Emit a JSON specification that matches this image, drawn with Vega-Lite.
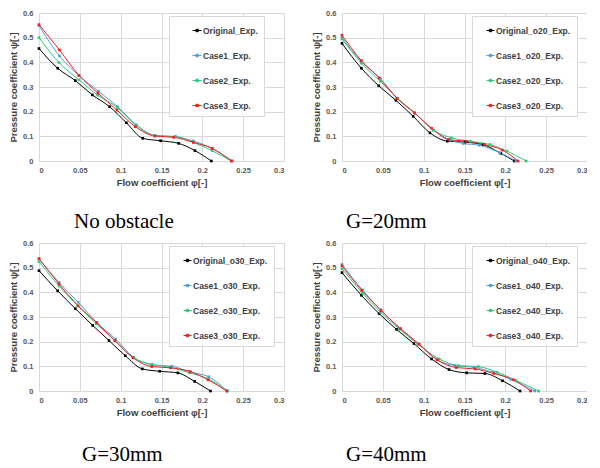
{
  "$schema": "https://vega.github.io/schema/vega-lite/v6.json",
  "padding": {"left": 8, "top": 9, "right": 0, "bottom": 0},
  "background": "white",
  "config": {
    "view": {"stroke": null},
    "axis": {
      "grid": true, "gridColor": "#d9d9d9", "gridWidth": 1, "domain": false, "ticks": false,
      "labelFont": "Liberation Sans", "labelFontWeight": "bold", "labelFontSize": 7.5, "labelColor": "#595959",
      "titleFont": "Liberation Sans", "titleFontWeight": "bold", "titleFontSize": 9.5, "titleColor": "#404040"
    },
    "axisX": {"labelPadding": 5, "titlePadding": 4},
    "axisY": {"labelPadding": 6, "titlePadding": 4},
    "legend": {
      "orient": "none", "legendX": 130, "legendY": 3, "title": null,
      "fillColor": "white", "strokeColor": "#d9d9d9", "padding": 6,
      "symbolSize": 256, "symbolStrokeWidth": 1, "rowPadding": 12,
      "labelFont": "Liberation Sans", "labelFontWeight": "bold", "labelFontSize": 8.5, "labelColor": "#404040"
    },
    "title": {"font": "Liberation Serif", "fontSize": 21, "fontWeight": "normal", "color": "black", "orient": "bottom", "anchor": "start", "frame": "group", "offset": 24}
  },
  "data": {"values": [
    {"panel":"p1","series":"Original_Exp.","phi":0,"psi":0.456},
    {"panel":"p1","series":"Original_Exp.","phi":0.0229,"psi":0.376},
    {"panel":"p1","series":"Original_Exp.","phi":0.0445,"psi":0.326},
    {"panel":"p1","series":"Original_Exp.","phi":0.0653,"psi":0.268},
    {"panel":"p1","series":"Original_Exp.","phi":0.0865,"psi":0.22},
    {"panel":"p1","series":"Original_Exp.","phi":0.107,"psi":0.155},
    {"panel":"p1","series":"Original_Exp.","phi":0.127,"psi":0.092},
    {"panel":"p1","series":"Original_Exp.","phi":0.149,"psi":0.082},
    {"panel":"p1","series":"Original_Exp.","phi":0.171,"psi":0.0715},
    {"panel":"p1","series":"Original_Exp.","phi":0.191,"psi":0.042},
    {"panel":"p1","series":"Original_Exp.","phi":0.211,"psi":0},
    {"panel":"p1","series":"Case1_Exp.","phi":0,"psi":0.549},
    {"panel":"p1","series":"Case1_Exp.","phi":0.025,"psi":0.426},
    {"panel":"p1","series":"Case1_Exp.","phi":0.049,"psi":0.346},
    {"panel":"p1","series":"Case1_Exp.","phi":0.0727,"psi":0.283},
    {"panel":"p1","series":"Case1_Exp.","phi":0.0963,"psi":0.22},
    {"panel":"p1","series":"Case1_Exp.","phi":0.119,"psi":0.147},
    {"panel":"p1","series":"Case1_Exp.","phi":0.142,"psi":0.104},
    {"panel":"p1","series":"Case1_Exp.","phi":0.167,"psi":0.098},
    {"panel":"p1","series":"Case1_Exp.","phi":0.189,"psi":0.081},
    {"panel":"p1","series":"Case1_Exp.","phi":0.212,"psi":0.051},
    {"panel":"p1","series":"Case1_Exp.","phi":0.237,"psi":0},
    {"panel":"p1","series":"Case2_Exp.","phi":0,"psi":0.5},
    {"panel":"p1","series":"Case2_Exp.","phi":0.0245,"psi":0.399},
    {"panel":"p1","series":"Case2_Exp.","phi":0.049,"psi":0.329},
    {"panel":"p1","series":"Case2_Exp.","phi":0.0718,"psi":0.267},
    {"panel":"p1","series":"Case2_Exp.","phi":0.0959,"psi":0.217},
    {"panel":"p1","series":"Case2_Exp.","phi":0.119,"psi":0.144},
    {"panel":"p1","series":"Case2_Exp.","phi":0.142,"psi":0.102},
    {"panel":"p1","series":"Case2_Exp.","phi":0.167,"psi":0.1},
    {"panel":"p1","series":"Case2_Exp.","phi":0.189,"psi":0.0755},
    {"panel":"p1","series":"Case2_Exp.","phi":0.212,"psi":0.042},
    {"panel":"p1","series":"Case2_Exp.","phi":0.2355,"psi":0},
    {"panel":"p1","series":"Case3_Exp.","phi":0,"psi":0.553},
    {"panel":"p1","series":"Case3_Exp.","phi":0.025,"psi":0.45},
    {"panel":"p1","series":"Case3_Exp.","phi":0.049,"psi":0.347},
    {"panel":"p1","series":"Case3_Exp.","phi":0.0722,"psi":0.275},
    {"panel":"p1","series":"Case3_Exp.","phi":0.0955,"psi":0.206},
    {"panel":"p1","series":"Case3_Exp.","phi":0.118,"psi":0.139},
    {"panel":"p1","series":"Case3_Exp.","phi":0.142,"psi":0.101},
    {"panel":"p1","series":"Case3_Exp.","phi":0.165,"psi":0.096},
    {"panel":"p1","series":"Case3_Exp.","phi":0.189,"psi":0.0755},
    {"panel":"p1","series":"Case3_Exp.","phi":0.212,"psi":0.051},
    {"panel":"p1","series":"Case3_Exp.","phi":0.2355,"psi":0},

    {"panel":"p2","series":"Original_o20_Exp.","phi":0,"psi":0.477},
    {"panel":"p2","series":"Original_o20_Exp.","phi":0.0237,"psi":0.376},
    {"panel":"p2","series":"Original_o20_Exp.","phi":0.045,"psi":0.305},
    {"panel":"p2","series":"Original_o20_Exp.","phi":0.066,"psi":0.246},
    {"panel":"p2","series":"Original_o20_Exp.","phi":0.0872,"psi":0.181},
    {"panel":"p2","series":"Original_o20_Exp.","phi":0.1077,"psi":0.114},
    {"panel":"p2","series":"Original_o20_Exp.","phi":0.129,"psi":0.0805},
    {"panel":"p2","series":"Original_o20_Exp.","phi":0.1506,"psi":0.0765},
    {"panel":"p2","series":"Original_o20_Exp.","phi":0.173,"psi":0.066},
    {"panel":"p2","series":"Original_o20_Exp.","phi":0.1944,"psi":0.031},
    {"panel":"p2","series":"Original_o20_Exp.","phi":0.211,"psi":0},
    {"panel":"p2","series":"Case1_o20_Exp.","phi":0,"psi":0.5},
    {"panel":"p2","series":"Case1_o20_Exp.","phi":0.0237,"psi":0.403},
    {"panel":"p2","series":"Case1_o20_Exp.","phi":0.047,"psi":0.334},
    {"panel":"p2","series":"Case1_o20_Exp.","phi":0.067,"psi":0.255},
    {"panel":"p2","series":"Case1_o20_Exp.","phi":0.089,"psi":0.195},
    {"panel":"p2","series":"Case1_o20_Exp.","phi":0.112,"psi":0.125},
    {"panel":"p2","series":"Case1_o20_Exp.","phi":0.133,"psi":0.085},
    {"panel":"p2","series":"Case1_o20_Exp.","phi":0.1486,"psi":0.071},
    {"panel":"p2","series":"Case1_o20_Exp.","phi":0.168,"psi":0.064},
    {"panel":"p2","series":"Case1_o20_Exp.","phi":0.193,"psi":0.034},
    {"panel":"p2","series":"Case1_o20_Exp.","phi":0.213,"psi":0},
    {"panel":"p2","series":"Case2_o20_Exp.","phi":0,"psi":0.495},
    {"panel":"p2","series":"Case2_o20_Exp.","phi":0.0237,"psi":0.397},
    {"panel":"p2","series":"Case2_o20_Exp.","phi":0.047,"psi":0.323},
    {"panel":"p2","series":"Case2_o20_Exp.","phi":0.068,"psi":0.254},
    {"panel":"p2","series":"Case2_o20_Exp.","phi":0.089,"psi":0.195},
    {"panel":"p2","series":"Case2_o20_Exp.","phi":0.112,"psi":0.125},
    {"panel":"p2","series":"Case2_o20_Exp.","phi":0.134,"psi":0.094},
    {"panel":"p2","series":"Case2_o20_Exp.","phi":0.157,"psi":0.08},
    {"panel":"p2","series":"Case2_o20_Exp.","phi":0.181,"psi":0.067},
    {"panel":"p2","series":"Case2_o20_Exp.","phi":0.202,"psi":0.04},
    {"panel":"p2","series":"Case2_o20_Exp.","phi":0.2255,"psi":0},
    {"panel":"p2","series":"Case3_o20_Exp.","phi":0,"psi":0.51},
    {"panel":"p2","series":"Case3_o20_Exp.","phi":0.0237,"psi":0.407},
    {"panel":"p2","series":"Case3_o20_Exp.","phi":0.0454,"psi":0.337},
    {"panel":"p2","series":"Case3_o20_Exp.","phi":0.0675,"psi":0.254},
    {"panel":"p2","series":"Case3_o20_Exp.","phi":0.0888,"psi":0.195},
    {"panel":"p2","series":"Case3_o20_Exp.","phi":0.1097,"psi":0.133},
    {"panel":"p2","series":"Case3_o20_Exp.","phi":0.1306,"psi":0.087},
    {"panel":"p2","series":"Case3_o20_Exp.","phi":0.1527,"psi":0.08},
    {"panel":"p2","series":"Case3_o20_Exp.","phi":0.174,"psi":0.067},
    {"panel":"p2","series":"Case3_o20_Exp.","phi":0.1965,"psi":0.044},
    {"panel":"p2","series":"Case3_o20_Exp.","phi":0.2155,"psi":0},

    {"panel":"p3","series":"Original_o30_Exp.","phi":0,"psi":0.488},
    {"panel":"p3","series":"Original_o30_Exp.","phi":0.0229,"psi":0.406},
    {"panel":"p3","series":"Original_o30_Exp.","phi":0.0445,"psi":0.334},
    {"panel":"p3","series":"Original_o30_Exp.","phi":0.0657,"psi":0.266},
    {"panel":"p3","series":"Original_o30_Exp.","phi":0.0857,"psi":0.2045},
    {"panel":"p3","series":"Original_o30_Exp.","phi":0.1057,"psi":0.143},
    {"panel":"p3","series":"Original_o30_Exp.","phi":0.1265,"psi":0.0896},
    {"panel":"p3","series":"Original_o30_Exp.","phi":0.1478,"psi":0.08},
    {"panel":"p3","series":"Original_o30_Exp.","phi":0.17,"psi":0.0735},
    {"panel":"p3","series":"Original_o30_Exp.","phi":0.1906,"psi":0.0388},
    {"panel":"p3","series":"Original_o30_Exp.","phi":0.21,"psi":0},
    {"panel":"p3","series":"Case1_o30_Exp.","phi":0,"psi":0.535},
    {"panel":"p3","series":"Case1_o30_Exp.","phi":0.0245,"psi":0.44},
    {"panel":"p3","series":"Case1_o30_Exp.","phi":0.048,"psi":0.36},
    {"panel":"p3","series":"Case1_o30_Exp.","phi":0.071,"psi":0.277},
    {"panel":"p3","series":"Case1_o30_Exp.","phi":0.094,"psi":0.21},
    {"panel":"p3","series":"Case1_o30_Exp.","phi":0.116,"psi":0.136},
    {"panel":"p3","series":"Case1_o30_Exp.","phi":0.139,"psi":0.106},
    {"panel":"p3","series":"Case1_o30_Exp.","phi":0.163,"psi":0.1},
    {"panel":"p3","series":"Case1_o30_Exp.","phi":0.186,"psi":0.076},
    {"panel":"p3","series":"Case1_o30_Exp.","phi":0.208,"psi":0.0575},
    {"panel":"p3","series":"Case1_o30_Exp.","phi":0.2306,"psi":0},
    {"panel":"p3","series":"Case2_o30_Exp.","phi":0,"psi":0.524},
    {"panel":"p3","series":"Case2_o30_Exp.","phi":0.0245,"psi":0.426},
    {"panel":"p3","series":"Case2_o30_Exp.","phi":0.0473,"psi":0.346},
    {"panel":"p3","series":"Case2_o30_Exp.","phi":0.0702,"psi":0.273},
    {"panel":"p3","series":"Case2_o30_Exp.","phi":0.093,"psi":0.203},
    {"panel":"p3","series":"Case2_o30_Exp.","phi":0.116,"psi":0.134},
    {"panel":"p3","series":"Case2_o30_Exp.","phi":0.138,"psi":0.108},
    {"panel":"p3","series":"Case2_o30_Exp.","phi":0.161,"psi":0.096},
    {"panel":"p3","series":"Case2_o30_Exp.","phi":0.1845,"psi":0.0735},
    {"panel":"p3","series":"Case2_o30_Exp.","phi":0.207,"psi":0.0495},
    {"panel":"p3","series":"Case2_o30_Exp.","phi":0.2306,"psi":0},
    {"panel":"p3","series":"Case3_o30_Exp.","phi":0,"psi":0.537},
    {"panel":"p3","series":"Case3_o30_Exp.","phi":0.0245,"psi":0.434},
    {"panel":"p3","series":"Case3_o30_Exp.","phi":0.048,"psi":0.345},
    {"panel":"p3","series":"Case3_o30_Exp.","phi":0.0706,"psi":0.277},
    {"panel":"p3","series":"Case3_o30_Exp.","phi":0.093,"psi":0.2045},
    {"panel":"p3","series":"Case3_o30_Exp.","phi":0.115,"psi":0.135},
    {"panel":"p3","series":"Case3_o30_Exp.","phi":0.138,"psi":0.099},
    {"panel":"p3","series":"Case3_o30_Exp.","phi":0.161,"psi":0.094},
    {"panel":"p3","series":"Case3_o30_Exp.","phi":0.185,"psi":0.079},
    {"panel":"p3","series":"Case3_o30_Exp.","phi":0.207,"psi":0.0455},
    {"panel":"p3","series":"Case3_o30_Exp.","phi":0.2298,"psi":0},

    {"panel":"p4","series":"Original_o40_Exp.","phi":0,"psi":0.48},
    {"panel":"p4","series":"Original_o40_Exp.","phi":0.0237,"psi":0.388},
    {"panel":"p4","series":"Original_o40_Exp.","phi":0.0454,"psi":0.314},
    {"panel":"p4","series":"Original_o40_Exp.","phi":0.0667,"psi":0.25},
    {"panel":"p4","series":"Original_o40_Exp.","phi":0.088,"psi":0.1925},
    {"panel":"p4","series":"Original_o40_Exp.","phi":0.1097,"psi":0.13},
    {"panel":"p4","series":"Original_o40_Exp.","phi":0.131,"psi":0.087},
    {"panel":"p4","series":"Original_o40_Exp.","phi":0.1527,"psi":0.0735},
    {"panel":"p4","series":"Original_o40_Exp.","phi":0.175,"psi":0.071},
    {"panel":"p4","series":"Original_o40_Exp.","phi":0.1965,"psi":0.0415},
    {"panel":"p4","series":"Original_o40_Exp.","phi":0.218,"psi":0},
    {"panel":"p4","series":"Case1_o40_Exp.","phi":0,"psi":0.513},
    {"panel":"p4","series":"Case1_o40_Exp.","phi":0.025,"psi":0.41},
    {"panel":"p4","series":"Case1_o40_Exp.","phi":0.047,"psi":0.33},
    {"panel":"p4","series":"Case1_o40_Exp.","phi":0.0708,"psi":0.253},
    {"panel":"p4","series":"Case1_o40_Exp.","phi":0.093,"psi":0.1925},
    {"panel":"p4","series":"Case1_o40_Exp.","phi":0.116,"psi":0.127},
    {"panel":"p4","series":"Case1_o40_Exp.","phi":0.138,"psi":0.103},
    {"panel":"p4","series":"Case1_o40_Exp.","phi":0.161,"psi":0.096},
    {"panel":"p4","series":"Case1_o40_Exp.","phi":0.1846,"psi":0.076},
    {"panel":"p4","series":"Case1_o40_Exp.","phi":0.2067,"psi":0.047},
    {"panel":"p4","series":"Case1_o40_Exp.","phi":0.236,"psi":0},
    {"panel":"p4","series":"Case2_o40_Exp.","phi":0,"psi":0.496},
    {"panel":"p4","series":"Case2_o40_Exp.","phi":0.025,"psi":0.397},
    {"panel":"p4","series":"Case2_o40_Exp.","phi":0.047,"psi":0.32},
    {"panel":"p4","series":"Case2_o40_Exp.","phi":0.0708,"psi":0.25},
    {"panel":"p4","series":"Case2_o40_Exp.","phi":0.093,"psi":0.19},
    {"panel":"p4","series":"Case2_o40_Exp.","phi":0.119,"psi":0.13},
    {"panel":"p4","series":"Case2_o40_Exp.","phi":0.1425,"psi":0.103},
    {"panel":"p4","series":"Case2_o40_Exp.","phi":0.167,"psi":0.099},
    {"panel":"p4","series":"Case2_o40_Exp.","phi":0.19,"psi":0.076},
    {"panel":"p4","series":"Case2_o40_Exp.","phi":0.213,"psi":0.043},
    {"panel":"p4","series":"Case2_o40_Exp.","phi":0.2407,"psi":0},
    {"panel":"p4","series":"Case3_o40_Exp.","phi":0,"psi":0.507},
    {"panel":"p4","series":"Case3_o40_Exp.","phi":0.0241,"psi":0.408},
    {"panel":"p4","series":"Case3_o40_Exp.","phi":0.048,"psi":0.326},
    {"panel":"p4","series":"Case3_o40_Exp.","phi":0.0716,"psi":0.253},
    {"panel":"p4","series":"Case3_o40_Exp.","phi":0.0945,"psi":0.19},
    {"panel":"p4","series":"Case3_o40_Exp.","phi":0.1167,"psi":0.126},
    {"panel":"p4","series":"Case3_o40_Exp.","phi":0.14,"psi":0.095},
    {"panel":"p4","series":"Case3_o40_Exp.","phi":0.163,"psi":0.0895},
    {"panel":"p4","series":"Case3_o40_Exp.","phi":0.186,"psi":0.071},
    {"panel":"p4","series":"Case3_o40_Exp.","phi":0.21,"psi":0.0455},
    {"panel":"p4","series":"Case3_o40_Exp.","phi":0.231,"psi":0}
  ]},
  "resolve": {"scale": {"color": "independent"}, "legend": {"color": "independent"}},
  "spacing": 7,
  "vconcat": [
    {
      "resolve": {"scale": {"color": "independent"}, "legend": {"color": "independent"}},
      "spacing": 27,
      "hconcat": [
        {
          "width": 245, "height": 148,
          "title": {"text": "No obstacle", "dx": 35},
          "transform": [{"filter": "datum.panel === 'p1'"}],
          "mark": {"type": "line", "interpolate": "monotone", "strokeWidth": 1, "point": {"shape": "square", "size": 7, "filled": true}},
          "encoding": {
            "x": {"field": "phi", "type": "quantitative", "scale": {"domain": [0, 0.3], "nice": false}, "axis": {"values": [0, 0.05, 0.1, 0.15, 0.2, 0.25, 0.3], "format": "~g", "title": "Flow coefficient  φ[-]"}},
            "y": {"field": "psi", "type": "quantitative", "scale": {"domain": [0, 0.6], "nice": false}, "axis": {"values": [0, 0.1, 0.2, 0.3, 0.4, 0.5, 0.6], "format": "~g", "title": "Pressure coefficient  ψ[-]"}},
            "color": {"field": "series", "type": "nominal", "sort": null,
              "scale": {"domain": ["Original_Exp.", "Case1_Exp.", "Case2_Exp.", "Case3_Exp."], "range": ["#000000", "#4f9fdb", "#2ecc7a", "#ff1a1a"]},
              "legend": {"symbolType": "M1.125,0H2.25M1.55,-0.15H1.85V0.15H1.55Z", "labelOffset": 11, "labelExpr": "datum.label + '     '"}}
          }
        },
        {
          "width": 245, "height": 148,
          "title": {"text": "G=20mm", "dx": 4},
          "transform": [{"filter": "datum.panel === 'p2'"}],
          "mark": {"type": "line", "interpolate": "monotone", "strokeWidth": 1, "point": {"shape": "square", "size": 7, "filled": true}},
          "encoding": {
            "x": {"field": "phi", "type": "quantitative", "scale": {"domain": [0, 0.3], "nice": false}, "axis": {"values": [0, 0.05, 0.1, 0.15, 0.2, 0.25, 0.3], "format": "~g", "title": "Flow coefficient  φ[-]"}},
            "y": {"field": "psi", "type": "quantitative", "scale": {"domain": [0, 0.6], "nice": false}, "axis": {"values": [0, 0.1, 0.2, 0.3, 0.4, 0.5, 0.6], "format": "~g", "title": "Pressure coefficient  ψ[-]"}},
            "color": {"field": "series", "type": "nominal", "sort": null,
              "scale": {"domain": ["Original_o20_Exp.", "Case1_o20_Exp.", "Case2_o20_Exp.", "Case3_o20_Exp."], "range": ["#000000", "#4f9fdb", "#2ecc7a", "#ff1a1a"]},
              "legend": {"symbolType": "M0,0H1M0.35,-0.15H0.65V0.15H0.35Z", "labelOffset": 1, "labelExpr": "datum.label + '  '"}}
          }
        }
      ]
    },
    {
      "resolve": {"scale": {"color": "independent"}, "legend": {"color": "independent"}},
      "spacing": 27,
      "hconcat": [
        {
          "width": 245, "height": 148,
          "title": {"text": "G=30mm", "dx": 43, "offset": 27},
          "transform": [{"filter": "datum.panel === 'p3'"}],
          "mark": {"type": "line", "interpolate": "monotone", "strokeWidth": 1, "point": {"shape": "square", "size": 7, "filled": true}},
          "encoding": {
            "x": {"field": "phi", "type": "quantitative", "scale": {"domain": [0, 0.3], "nice": false}, "axis": {"values": [0, 0.05, 0.1, 0.15, 0.2, 0.25, 0.3], "format": "~g", "title": "Flow coefficient  φ[-]"}},
            "y": {"field": "psi", "type": "quantitative", "scale": {"domain": [0, 0.6], "nice": false}, "axis": {"values": [0, 0.1, 0.2, 0.3, 0.4, 0.5, 0.6], "format": "~g", "title": "Pressure coefficient  ψ[-]"}},
            "color": {"field": "series", "type": "nominal", "sort": null,
              "scale": {"domain": ["Original_o30_Exp.", "Case1_o30_Exp.", "Case2_o30_Exp.", "Case3_o30_Exp."], "range": ["#000000", "#4f9fdb", "#2ecc7a", "#ff1a1a"]},
              "legend": {"symbolType": "M0,0H1M0.35,-0.15H0.65V0.15H0.35Z", "labelOffset": 1, "labelExpr": "datum.label + '  '"}}
          }
        },
        {
          "width": 245, "height": 148,
          "title": {"text": "G=40mm", "dx": 4, "offset": 27},
          "transform": [{"filter": "datum.panel === 'p4'"}],
          "mark": {"type": "line", "interpolate": "monotone", "strokeWidth": 1, "point": {"shape": "square", "size": 7, "filled": true}},
          "encoding": {
            "x": {"field": "phi", "type": "quantitative", "scale": {"domain": [0, 0.3], "nice": false}, "axis": {"values": [0, 0.05, 0.1, 0.15, 0.2, 0.25, 0.3], "format": "~g", "title": "Flow coefficient  φ[-]"}},
            "y": {"field": "psi", "type": "quantitative", "scale": {"domain": [0, 0.6], "nice": false}, "axis": {"values": [0, 0.1, 0.2, 0.3, 0.4, 0.5, 0.6], "format": "~g", "title": "Pressure coefficient  ψ[-]"}},
            "color": {"field": "series", "type": "nominal", "sort": null,
              "scale": {"domain": ["Original_o40_Exp.", "Case1_o40_Exp.", "Case2_o40_Exp.", "Case3_o40_Exp."], "range": ["#000000", "#4f9fdb", "#2ecc7a", "#ff1a1a"]},
              "legend": {"symbolType": "M0,0H1M0.35,-0.15H0.65V0.15H0.35Z", "labelOffset": 1, "labelExpr": "datum.label + '  '"}}
          }
        }
      ]
    }
  ]
}
